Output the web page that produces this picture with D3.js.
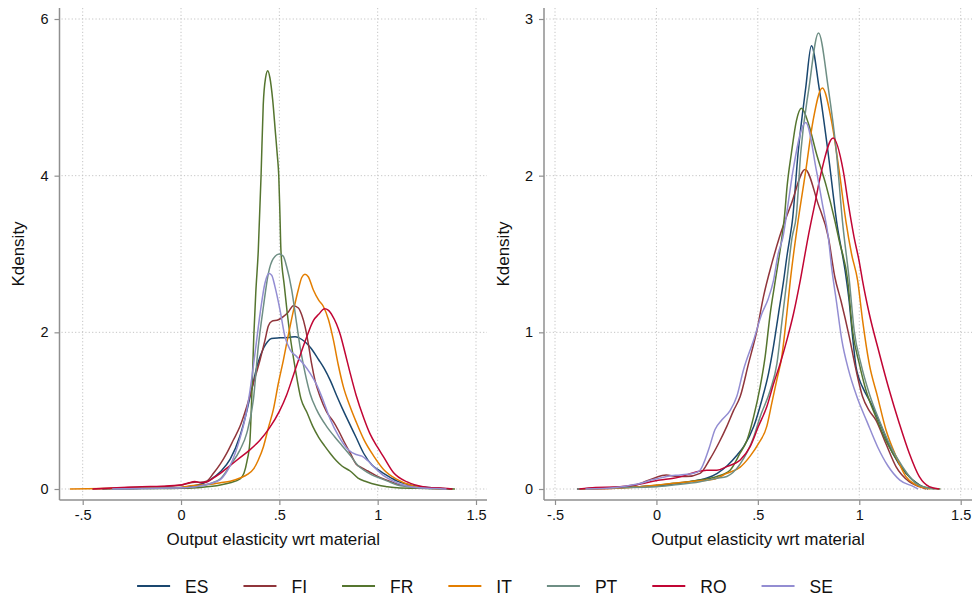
<!DOCTYPE html>
<html>
<head>
<meta charset="utf-8">
<script src="https://cdn.jsdelivr.net/npm/d3@7"></script>
<style>
  body { margin: 0; background: #fff; }
  svg { display: block; font-family: "Liberation Sans", Arial, Helvetica, sans-serif; }
</style>
</head>
<body>
<svg id="chart" width="972" height="598"></svg>
<script>
// Kernel density estimates of the output elasticity with respect to materials, by country.
const countries = ["ES", "FI", "FR", "IT", "PT", "RO", "SE"];

const xTickValues = [-0.5, 0, 0.5, 1, 1.5];
const xTickLabels = ["-.5", "0", ".5", "1", "1.5"];
const yTicksLeft = [0, 2, 4, 6];
const yTicksRight = [0, 1, 2, 3];

const xTitle = "Output elasticity wrt material";
const yTitle = "Kdensity";

// Left panel: [elasticity, density]
const leftES = [[-0.4,0],[-0.3,0.005],[-0.2,0.01],[-0.1,0.015],[0,0.02],[0.05,0.035],[0.1,0.06],[0.15,0.12],[0.2,0.22],[0.25,0.38],[0.3,0.68],[0.33,0.95],[0.36,1.28],[0.39,1.6],[0.42,1.8],[0.44,1.88],[0.46,1.92],[0.5,1.93],[0.55,1.935],[0.58,1.945],[0.6,1.93],[0.63,1.88],[0.66,1.8],[0.7,1.65],[0.73,1.53],[0.76,1.38],[0.79,1.2],[0.82,1.03],[0.85,0.87],[0.89,0.66],[0.93,0.45],[0.97,0.31],[1.0,0.25],[1.03,0.2],[1.07,0.14],[1.1,0.1],[1.15,0.06],[1.2,0.035],[1.3,0.01],[1.37,0]];
const leftFI = [[-0.45,0],[-0.3,0.015],[-0.2,0.025],[-0.1,0.03],[0,0.05],[0.05,0.08],[0.08,0.09],[0.1,0.085],[0.13,0.1],[0.165,0.2],[0.2,0.32],[0.232,0.455],[0.266,0.625],[0.3,0.8],[0.334,1.05],[0.368,1.35],[0.402,1.65],[0.427,1.9],[0.444,2.08],[0.461,2.14],[0.495,2.16],[0.52,2.2],[0.546,2.26],[0.571,2.34],[0.597,2.31],[0.614,2.22],[0.631,2.07],[0.647,1.86],[0.664,1.6],[0.681,1.39],[0.707,1.18],[0.741,0.98],[0.775,0.86],[0.8,0.75],[0.83,0.6],[0.86,0.46],[0.89,0.32],[0.92,0.27],[0.95,0.23],[1.0,0.16],[1.05,0.11],[1.1,0.06],[1.15,0.04],[1.2,0.025],[1.3,0.01],[1.38,0]];
const leftFR = [[-0.35,0],[-0.2,0.005],[0,0.01],[0.1,0.02],[0.2,0.05],[0.25,0.08],[0.3,0.13],[0.32,0.2],[0.335,0.35],[0.35,0.6],[0.36,1.2],[0.37,1.95],[0.38,2.5],[0.393,3.05],[0.407,4.0],[0.418,4.9],[0.43,5.25],[0.441,5.34],[0.452,5.25],[0.466,4.97],[0.48,4.55],[0.49,4.25],[0.497,4.0],[0.503,3.5],[0.508,3.05],[0.525,2.6],[0.54,2.25],[0.555,1.95],[0.58,1.55],[0.61,1.15],[0.64,0.98],[0.67,0.8],[0.7,0.66],[0.73,0.55],[0.76,0.45],[0.79,0.36],[0.82,0.29],[0.86,0.23],[0.9,0.14],[0.94,0.095],[1.0,0.05],[1.05,0.03],[1.1,0.015],[1.2,0.008],[1.3,0.003],[1.393,0]];
const leftIT = [[-0.565,0],[-0.4,0.005],[-0.2,0.01],[0,0.02],[0.05,0.04],[0.1,0.05],[0.15,0.06],[0.2,0.08],[0.25,0.1],[0.3,0.14],[0.34,0.19],[0.37,0.26],[0.393,0.37],[0.419,0.54],[0.444,0.78],[0.47,1.02],[0.495,1.35],[0.52,1.64],[0.546,1.97],[0.571,2.27],[0.597,2.55],[0.614,2.7],[0.63,2.74],[0.647,2.71],[0.673,2.54],[0.7,2.41],[0.724,2.33],[0.75,2.16],[0.775,1.9],[0.8,1.58],[0.825,1.31],[0.86,1.05],[0.89,0.86],[0.93,0.63],[0.98,0.42],[1.03,0.25],[1.1,0.12],[1.18,0.04],[1.27,0.01],[1.35,0]];
const leftPT = [[-0.35,0],[-0.2,0.005],[0,0.015],[0.1,0.04],[0.15,0.07],[0.2,0.13],[0.25,0.3],[0.3,0.5],[0.334,0.71],[0.368,1.14],[0.393,1.82],[0.419,2.33],[0.444,2.75],[0.469,2.94],[0.5,3.0],[0.52,2.97],[0.537,2.84],[0.563,2.54],[0.588,2.11],[0.605,1.82],[0.631,1.48],[0.656,1.22],[0.69,1.01],[0.74,0.8],[0.78,0.67],[0.82,0.55],[0.86,0.43],[0.9,0.3],[0.93,0.24],[0.97,0.18],[1.01,0.14],[1.05,0.1],[1.1,0.05],[1.15,0.03],[1.2,0.015],[1.3,0.005],[1.36,0]];
const leftRO = [[-0.45,0],[-0.3,0.02],[-0.2,0.03],[-0.1,0.035],[0,0.05],[0.04,0.08],[0.07,0.095],[0.1,0.08],[0.13,0.09],[0.17,0.15],[0.2,0.2],[0.25,0.3],[0.3,0.4],[0.35,0.5],[0.4,0.62],[0.45,0.78],[0.5,0.99],[0.537,1.2],[0.571,1.45],[0.605,1.7],[0.639,1.94],[0.673,2.15],[0.7,2.23],[0.73,2.3],[0.75,2.28],[0.77,2.21],[0.79,2.11],[0.81,1.97],[0.835,1.73],[0.86,1.48],[0.89,1.2],[0.93,0.9],[0.96,0.71],[1.0,0.53],[1.03,0.41],[1.08,0.21],[1.15,0.09],[1.23,0.03],[1.33,0.01],[1.38,0]];
const leftSE = [[-0.35,0],[-0.2,0.005],[-0.1,0.01],[0,0.015],[0.1,0.04],[0.15,0.07],[0.2,0.12],[0.25,0.3],[0.3,0.65],[0.33,0.95],[0.351,1.26],[0.376,1.73],[0.402,2.24],[0.427,2.63],[0.447,2.75],[0.461,2.73],[0.478,2.58],[0.503,2.29],[0.529,1.94],[0.554,1.78],[0.588,1.69],[0.622,1.6],[0.656,1.48],[0.69,1.33],[0.72,1.15],[0.757,0.9],[0.8,0.68],[0.85,0.5],[0.89,0.44],[0.92,0.42],[0.95,0.36],[0.99,0.26],[1.03,0.17],[1.08,0.1],[1.13,0.05],[1.2,0.02],[1.3,0.005],[1.35,0]];

// Right panel: [elasticity, density]
const rightES = [[-0.39,0],[-0.3,0.005],[-0.2,0.01],[-0.1,0.013],[0,0.02],[0.1,0.035],[0.2,0.055],[0.25,0.07],[0.3,0.1],[0.35,0.15],[0.4,0.22],[0.43,0.27],[0.48,0.4],[0.52,0.57],[0.553,0.74],[0.577,0.91],[0.602,1.12],[0.627,1.33],[0.645,1.5],[0.66,1.62],[0.67,1.71],[0.698,2.14],[0.736,2.56],[0.764,2.83],[0.802,2.56],[0.847,2.14],[0.888,1.71],[0.934,1.36],[0.95,1.2],[0.965,1.0],[0.984,0.78],[1.0,0.7],[1.016,0.65],[1.066,0.525],[1.115,0.38],[1.164,0.23],[1.23,0.1],[1.296,0.026],[1.34,0]];
const rightFI = [[-0.39,0],[-0.2,0.005],[-0.1,0.026],[-0.015,0.068],[0.048,0.089],[0.1,0.08],[0.146,0.079],[0.215,0.1],[0.261,0.185],[0.31,0.3],[0.347,0.4],[0.38,0.5],[0.413,0.59],[0.454,0.8],[0.495,1.01],[0.528,1.23],[0.569,1.44],[0.607,1.61],[0.665,1.82],[0.733,2.04],[0.797,1.82],[0.847,1.61],[0.88,1.35],[0.91,1.2],[0.951,0.97],[0.984,0.76],[1.016,0.59],[1.049,0.5],[1.082,0.44],[1.131,0.29],[1.181,0.143],[1.246,0.047],[1.296,0.015],[1.33,0]];
const rightFR = [[-0.35,0],[-0.2,0.01],[-0.08,0.015],[0.084,0.036],[0.215,0.057],[0.298,0.08],[0.363,0.12],[0.413,0.23],[0.446,0.31],[0.479,0.46],[0.511,0.65],[0.536,0.845],[0.561,1.12],[0.586,1.33],[0.618,1.6],[0.632,1.75],[0.644,1.93],[0.665,2.14],[0.69,2.35],[0.715,2.43],[0.75,2.33],[0.789,2.14],[0.838,1.93],[0.88,1.71],[0.901,1.585],[0.943,1.33],[0.967,1.01],[1.0,0.8],[1.033,0.63],[1.082,0.46],[1.131,0.31],[1.197,0.164],[1.263,0.057],[1.312,0.015],[1.4,0]];
const rightIT = [[-0.38,0],[-0.2,0.005],[-0.08,0.015],[0.051,0.032],[0.166,0.047],[0.281,0.062],[0.347,0.1],[0.413,0.14],[0.462,0.21],[0.503,0.29],[0.544,0.4],[0.569,0.55],[0.594,0.7],[0.618,0.845],[0.643,1.12],[0.66,1.33],[0.695,1.68],[0.736,2.03],[0.772,2.35],[0.818,2.56],[0.863,2.35],[0.901,2.03],[0.934,1.71],[0.962,1.5],[0.992,1.33],[1.016,1.08],[1.049,0.8],[1.09,0.59],[1.131,0.38],[1.181,0.21],[1.23,0.079],[1.279,0.026],[1.328,0.004],[1.35,0]];
const rightPT = [[-0.39,0],[-0.2,0.008],[0,0.015],[0.084,0.026],[0.215,0.047],[0.298,0.068],[0.347,0.08],[0.413,0.16],[0.479,0.33],[0.511,0.46],[0.561,0.63],[0.594,0.8],[0.618,1.06],[0.643,1.33],[0.668,1.6],[0.69,1.75],[0.711,2.14],[0.752,2.56],[0.799,2.91],[0.847,2.56],[0.888,2.14],[0.917,1.71],[0.951,1.33],[0.975,1.01],[1.008,0.8],[1.049,0.61],[1.098,0.44],[1.148,0.29],[1.213,0.143],[1.279,0.036],[1.328,0.01],[1.37,0]];
const rightRO = [[-0.38,0],[-0.3,0.01],[-0.2,0.012],[-0.08,0.032],[0.018,0.057],[0.084,0.068],[0.15,0.09],[0.199,0.11],[0.248,0.12],[0.298,0.12],[0.347,0.143],[0.413,0.185],[0.462,0.27],[0.503,0.4],[0.544,0.525],[0.577,0.67],[0.61,0.8],[0.643,0.95],[0.676,1.12],[0.709,1.33],[0.748,1.61],[0.781,1.82],[0.814,2.03],[0.871,2.24],[0.921,2.03],[0.946,1.82],[0.974,1.61],[1.0,1.45],[1.016,1.33],[1.049,1.12],[1.098,0.87],[1.148,0.63],[1.197,0.42],[1.246,0.23],[1.296,0.079],[1.345,0.015],[1.394,0]];
const rightSE = [[-0.35,0],[-0.2,0.01],[-0.1,0.03],[-0.015,0.06],[0.051,0.08],[0.117,0.09],[0.183,0.1],[0.215,0.12],[0.257,0.25],[0.289,0.38],[0.322,0.44],[0.363,0.5],[0.396,0.59],[0.429,0.76],[0.479,0.95],[0.52,1.12],[0.55,1.21],[0.577,1.33],[0.6,1.5],[0.624,1.61],[0.649,1.82],[0.673,2.03],[0.736,2.34],[0.789,2.03],[0.818,1.82],[0.847,1.61],[0.865,1.4],[0.887,1.2],[0.914,0.95],[0.947,0.76],[0.988,0.59],[1.038,0.43],[1.09,0.27],[1.14,0.15],[1.2,0.057],[1.268,0.015],[1.29,0]];

const leftSeries = [leftES, leftFI, leftFR, leftIT, leftPT, leftRO, leftSE];
const rightSeries = [rightES, rightFI, rightFR, rightIT, rightPT, rightRO, rightSE];

// Stata s2color palette
const palette = ["#1a476f", "#90353b", "#55752f", "#e37e00", "#6e8e84", "#c10534", "#938dd2"];

const svg = d3.select("#chart");
const FONT = '"Liberation Sans", Arial, Helvetica, sans-serif';
const AXIS_COLOR = "#8f8f8f";
const GRID_COLOR = "#c4c4c4";

const panels = [
  { series: leftSeries, yTicks: yTicksLeft, yMax: 6,
    frame: { left: 59.5, right: 487, top: 8, bottom: 500 },
    xRange: [82.7, 476], yRange: [489, 19], yTitleX: 18 },
  { series: rightSeries, yTicks: yTicksRight, yMax: 3,
    frame: { left: 544, right: 972, top: 8, bottom: 500 },
    xRange: [555, 960.7], yRange: [489, 19], yTitleX: 503 }
];

panels.forEach(p => {
  const f = p.frame;
  const x = d3.scaleLinear().domain([-0.5, 1.5]).range(p.xRange);
  const y = d3.scaleLinear().domain([0, p.yMax]).range(p.yRange);
  const g = svg.append("g");

  // dotted grid
  const grid = g.append("g").attr("stroke", GRID_COLOR).attr("stroke-width", 1)
    .attr("stroke-dasharray", "1.2,2.2");
  grid.selectAll("line.h").data(p.yTicks).join("line").attr("class", "h")
    .attr("x1", f.left + 2).attr("x2", f.right)
    .attr("y1", d => y(d)).attr("y2", d => y(d));
  grid.selectAll("line.v").data(xTickValues).join("line").attr("class", "v")
    .attr("y1", f.top).attr("y2", f.bottom - 2)
    .attr("x1", d => x(d)).attr("x2", d => x(d));

  // density curves
  const line = d3.line().x(d => x(d[0])).y(d => y(d[1])).curve(d3.curveMonotoneX);
  g.append("g").selectAll("path").data(p.series).join("path")
    .attr("d", line)
    .attr("fill", "none")
    .attr("stroke", (d, i) => palette[i])
    .attr("stroke-width", 1.5)
    .attr("stroke-linejoin", "round");

  // y axis
  const yAxis = d3.axisLeft(y).tickValues(p.yTicks).tickSize(5).tickPadding(6)
    .tickFormat(d3.format("d"));
  const ya = g.append("g").attr("transform", `translate(${f.left},0)`).call(yAxis);
  ya.select(".domain").remove();
  ya.selectAll(".tick line").attr("stroke", AXIS_COLOR).attr("stroke-width", 1.2);
  ya.selectAll(".tick text").attr("font-family", FONT).attr("font-size", 14.5).attr("fill", "#111");
  g.append("line").attr("x1", f.left).attr("x2", f.left).attr("y1", f.top).attr("y2", f.bottom)
    .attr("stroke", AXIS_COLOR).attr("stroke-width", 1.5);

  // x axis
  const xAxis = d3.axisBottom(x).tickValues(xTickValues).tickSize(5).tickPadding(5)
    .tickFormat((d, i) => xTickLabels[i]);
  const xa = g.append("g").attr("transform", `translate(0,${f.bottom})`).call(xAxis);
  xa.select(".domain").remove();
  xa.selectAll(".tick line").attr("stroke", AXIS_COLOR).attr("stroke-width", 1.2);
  xa.selectAll(".tick text").attr("font-family", FONT).attr("font-size", 14.5).attr("fill", "#111");
  g.append("line").attr("x1", f.left).attr("x2", f.right).attr("y1", f.bottom).attr("y2", f.bottom)
    .attr("stroke", AXIS_COLOR).attr("stroke-width", 1.5);

  // titles
  g.append("text").attr("x", (f.left + f.right) / 2).attr("y", 545)
    .attr("text-anchor", "middle").attr("font-family", FONT).attr("font-size", 17)
    .attr("fill", "#111").text(xTitle);
  g.append("text").attr("transform", `translate(${p.yTitleX + 6},${(f.top + f.bottom) / 2}) rotate(-90)`)
    .attr("text-anchor", "middle").attr("font-family", FONT).attr("font-size", 17)
    .attr("fill", "#111").text(yTitle);
});

// legend
const legend = svg.append("g");
const keyLen = 33, keyGap = 15, itemGap = 35;
let cursor = 0;
countries.forEach((c, i) => {
  const item = legend.append("g").attr("transform", `translate(${cursor},0)`);
  item.append("line").attr("x1", 0).attr("x2", keyLen).attr("y1", 586).attr("y2", 586)
    .attr("stroke", palette[i]).attr("stroke-width", 2);
  const t = item.append("text").attr("x", keyLen + keyGap).attr("y", 592.5)
    .attr("font-family", FONT).attr("font-size", 17.5).attr("fill", "#111").text(c);
  cursor += keyLen + keyGap + t.node().getComputedTextLength() + (i < countries.length - 1 ? itemGap : 0);
});
legend.attr("transform", `translate(${485 - cursor / 2},0)`);
</script>
</body>
</html>
